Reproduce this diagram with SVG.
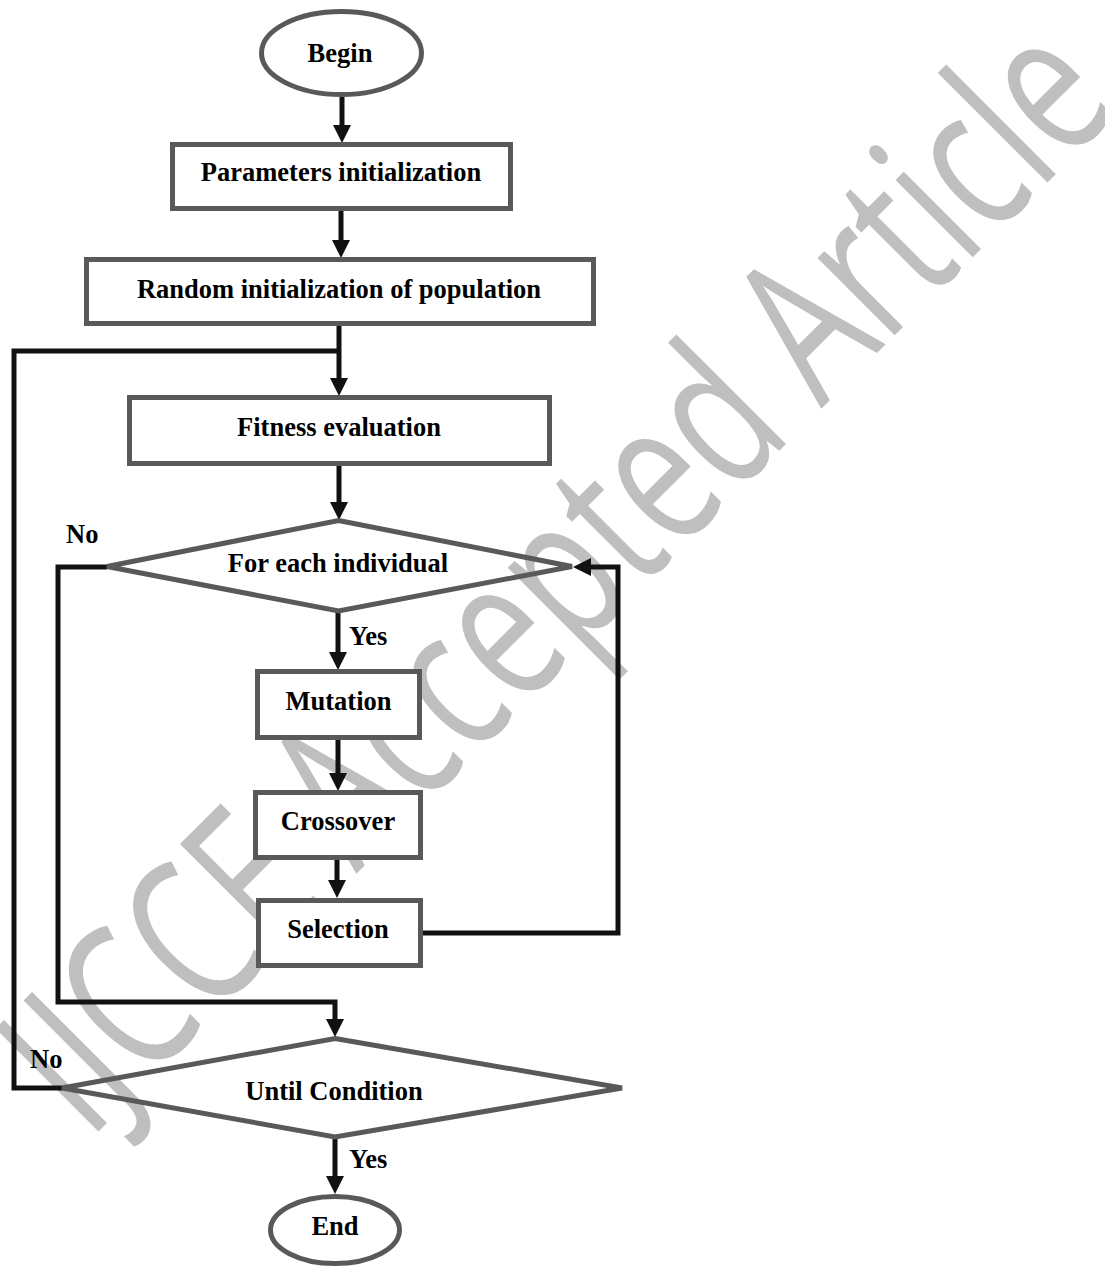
<svg xmlns="http://www.w3.org/2000/svg" width="1105" height="1270" viewBox="0 0 1105 1270">
<style>
.node{fill:#fff;stroke:#595959;stroke-width:5}
.dia{fill:none;stroke:#595959;stroke-width:5}
.lbl{font-family:"Liberation Serif","Times New Roman",serif;font-weight:bold;font-size:26.5px;fill:#000;text-anchor:middle}
.side{font-family:"Liberation Serif","Times New Roman",serif;font-weight:bold;font-size:26.5px;fill:#000}
.con{fill:none;stroke:#111;stroke-width:5}
.wm{font-family:"Open Sans","Noto Sans",sans-serif;font-size:204px;fill:#bfbfbf}
</style>
<defs>
<marker id="ah" markerUnits="userSpaceOnUse" viewBox="0 0 18 18" markerWidth="18" markerHeight="18" refX="8" refY="9" orient="auto">
<path d="M0,0 L18,9 L0,18 z" fill="#111"/>
</marker>
</defs>
<rect width="1105" height="1270" fill="#fff"/>
<g id="watermark">
<text class="wm" transform="translate(88.5,1141.5) rotate(-45) scale(0.708,1)">IJCCE Accepted Article</text>
</g>
<g id="connectors">
<path class="con" d="M342,97 V133" marker-end="url(#ah)"/>
<path class="con" d="M341,211 V248" marker-end="url(#ah)"/>
<path class="con" d="M339,326 V386" marker-end="url(#ah)"/>
<path class="con" d="M62,1088 H14 V351 H339"/>
<path class="con" d="M339,466 V510" marker-end="url(#ah)"/>
<path class="con" d="M107,567 H58 V1002 H335 V1027" marker-end="url(#ah)"/>
<path class="con" d="M338,612 V660" marker-end="url(#ah)"/>
<path class="con" d="M338,740 V781" marker-end="url(#ah)"/>
<path class="con" d="M337,860 V888" marker-end="url(#ah)"/>
<path class="con" d="M423,933 H618 V567 H583" marker-end="url(#ah)"/>
<path class="con" d="M335,1137 V1184" marker-end="url(#ah)"/>
</g>
<g id="begin"><ellipse class="node" cx="341.5" cy="53" rx="80" ry="41.5"/><text class="lbl" x="340" y="62">Begin</text></g>
<g id="params"><rect class="node" x="172.5" y="144.5" width="338" height="64"/><text class="lbl" x="341" y="181">Parameters initialization</text></g>
<g id="random"><rect class="node" x="86.5" y="259.5" width="507" height="64"/><text class="lbl" x="339" y="298">Random initialization of population</text></g>
<g id="fitness"><rect class="node" x="129.5" y="397.5" width="420" height="66"/><text class="lbl" x="339" y="436">Fitness evaluation</text></g>
<g id="foreach"><polygon class="dia" points="338.5,520.5 572,566.5 338.5,611 107,566.5"/><text class="lbl" x="338" y="572">For each individual</text></g>
<g id="mutation"><rect class="node" x="257.5" y="671.5" width="162" height="66"/><text class="lbl" x="338.5" y="710">Mutation</text></g>
<g id="crossover"><rect class="node" x="255.5" y="792.5" width="165" height="65"/><text class="lbl" x="338" y="830">Crossover</text></g>
<g id="selection"><rect class="node" x="258.5" y="900.5" width="162" height="65"/><text class="lbl" x="338" y="938">Selection</text></g>
<g id="until"><polygon class="dia" points="335,1038.5 622,1088 335,1137 62,1088"/><text class="lbl" x="334" y="1100">Until Condition</text></g>
<g id="end"><ellipse class="node" cx="335" cy="1230" rx="64.5" ry="33.5"/><text class="lbl" x="335" y="1235">End</text></g>
<g id="labels">
<text class="side" x="66" y="543">No</text>
<text class="side" x="349" y="645">Yes</text>
<text class="side" x="30" y="1068">No</text>
<text class="side" x="349" y="1168">Yes</text>
</g>
</svg>
